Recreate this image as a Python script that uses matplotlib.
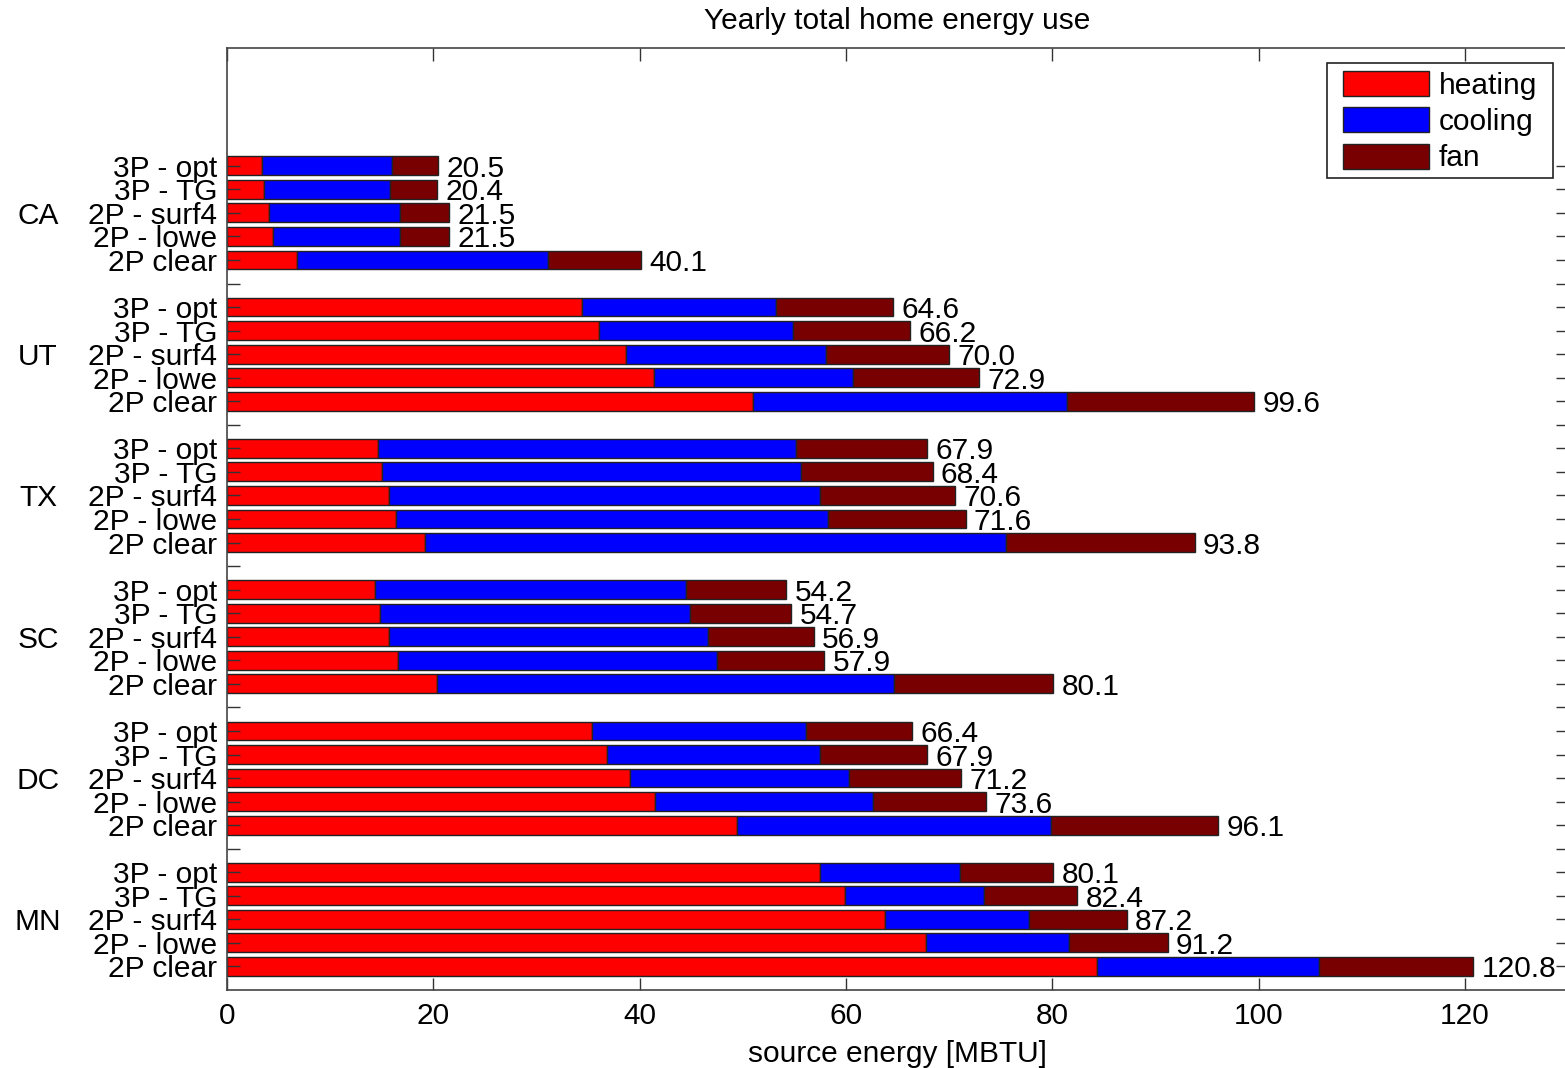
import matplotlib
matplotlib.use("Agg")
import matplotlib.pyplot as plt
from matplotlib.patches import Patch, Rectangle
import matplotlib.transforms as mtransforms

plt.rcParams['font.family'] = ['Liberation Sans', 'DejaVu Sans']

# ---- data (top to bottom) ----
groups = ["CA", "UT", "TX", "SC", "DC", "MN"]
configs = ["3P - opt", "3P - TG", "2P - surf4", "2P - lowe", "2P clear"]

heating = [
    [3.4, 3.6, 4.1, 4.5, 6.8],
    [34.4, 36.1, 38.7, 41.4, 51.0],
    [14.6, 15.0, 15.7, 16.4, 19.2],
    [14.3, 14.8, 15.7, 16.6, 20.4],
    [35.4, 36.8, 39.1, 41.5, 49.4],
    [57.5, 59.9, 63.8, 67.8, 84.3],
]
cooling = [
    [12.6, 12.2, 12.7, 12.3, 24.3],
    [18.8, 18.8, 19.4, 19.3, 30.4],
    [40.6, 40.6, 41.8, 41.9, 56.3],
    [30.2, 30.1, 30.9, 30.9, 44.3],
    [20.7, 20.7, 21.2, 21.1, 30.5],
    [13.6, 13.5, 13.9, 13.8, 21.6],
]
fan = [
    [4.5, 4.6, 4.7, 4.7, 9.0],
    [11.4, 11.3, 11.9, 12.2, 18.2],
    [12.7, 12.8, 13.1, 13.3, 18.3],
    [9.7, 9.8, 10.3, 10.4, 15.4],
    [10.3, 10.4, 10.9, 11.0, 16.2],
    [9.0, 9.0, 9.5, 9.6, 14.9],
]
totals = [
    ["20.5", "20.4", "21.5", "21.5", "40.1"],
    ["64.6", "66.2", "70.0", "72.9", "99.6"],
    ["67.9", "68.4", "70.6", "71.6", "93.8"],
    ["54.2", "54.7", "56.9", "57.9", "80.1"],
    ["66.4", "67.9", "71.2", "73.6", "96.1"],
    ["80.1", "82.4", "87.2", "91.2", "120.8"],
]
series_names = ["heating", "cooling", "fan"]
colors = ["#ff0000", "#0000ff", "#780000"]
xticks = [0, 20, 40, 60, 80, 100, 120]

W, H = 1565, 1068
fig = plt.figure(figsize=(W / 100, H / 100), dpi=100)
ax = fig.add_axes([227 / W, (H - 990) / H, (1568 - 227) / W, (990 - 48) / H])

FS = 21.5
FSPX = FS * 100 / 72.0
bar_h = 0.8
trans = mtransforms.blended_transform_factory(ax.transAxes, ax.transData)
for g, gname in enumerate(groups):
    for i, cname in enumerate(configs):
        y = 35 - 6 * g - i
        h = heating[g][i]
        c = cooling[g][i]
        f = fan[g][i]
        ax.barh(y, h, height=bar_h, color=colors[0], edgecolor="#222222", linewidth=1.0)
        ax.barh(y, c, left=h, height=bar_h, color=colors[1], edgecolor="#222222", linewidth=1.0)
        ax.barh(y, f, left=h + c, height=bar_h, color=colors[2], edgecolor="#222222", linewidth=1.0)
        ax.annotate(totals[g][i], xy=(h + c + f, y), xytext=(6, 0), textcoords="offset points",
                    va="center_baseline", ha="left", fontsize=FS)
    ymid = 35 - 6 * g - 2
    ax.text(-0.141, ymid, gname, transform=trans, ha="center", va="center_baseline", fontsize=FS)

labels = {}
for g in range(len(groups)):
    for i, cname in enumerate(configs):
        labels[35 - 6 * g - i] = cname
ypos = list(range(1, 36))
ax.set_yticks(ypos)
ax.set_yticklabels([labels.get(p, "") for p in ypos], fontsize=FS)
ax.set_ylim(0, 40)
ax.set_xlim(0, 130)
ax.set_xticks(xticks)
ax.set_xticklabels([str(v) for v in xticks], fontsize=FS)

ax.tick_params(axis="both", direction="in", length=9, width=1.0, color="#333333",
               top=True, right=True, labelsize=FS)
ax.tick_params(axis="y", pad=7)
ax.tick_params(axis="x", pad=9)
for s in ax.spines.values():
    s.set_linewidth(1.2)
    s.set_color("#444444")

ax.set_title("Yearly total home energy use", fontsize=FS, pad=13.5)
ax.set_xlabel("source energy [MBTU]", fontsize=FS, labelpad=7)

# ---- legend (content placed, frame drawn separately) ----
handles = [Patch(facecolor=colors[k], edgecolor="#222222", linewidth=1.0, label=series_names[k])
           for k in range(3)]
target_patch_left, target_patch_top = 1343, 71   # pixels from top-left


def make_legend(xa, ya):
    return fig.legend(handles=handles, loc="upper left", bbox_to_anchor=(xa / W, 1 - ya / H),
                      bbox_transform=fig.transFigure, fontsize=FS, frameon=False,
                      handlelength=86 / FSPX, handleheight=27 / FSPX, handletextpad=10 / FSPX,
                      labelspacing=0.255, borderpad=0.0, borderaxespad=0.0)


leg = make_legend(target_patch_left, target_patch_top)
fig.canvas.draw()
r = fig.canvas.get_renderer()
pb = leg.legend_handles[0].get_window_extent(r)
dx = target_patch_left - pb.x0
dy = target_patch_top - (H - pb.y1)
leg.remove()
leg = make_legend(target_patch_left + dx, target_patch_top + dy)
fig.canvas.draw()
p_first = leg.legend_handles[0].get_window_extent(r)
p_last = leg.legend_handles[-1].get_window_extent(r)
fx0 = p_first.x0 - 16
fx1 = 1553
fy1 = p_first.y1 + 8
fy0 = p_last.y0 - 9
frame = Rectangle((fx0 / W, fy0 / H), (fx1 - fx0) / W, (fy1 - fy0) / H, transform=fig.transFigure,
                  facecolor="white", edgecolor="#222222", linewidth=1.2, zorder=4)
fig.patches.append(frame)
leg.set_zorder(5)

fig.savefig("out.png", dpi=100)
